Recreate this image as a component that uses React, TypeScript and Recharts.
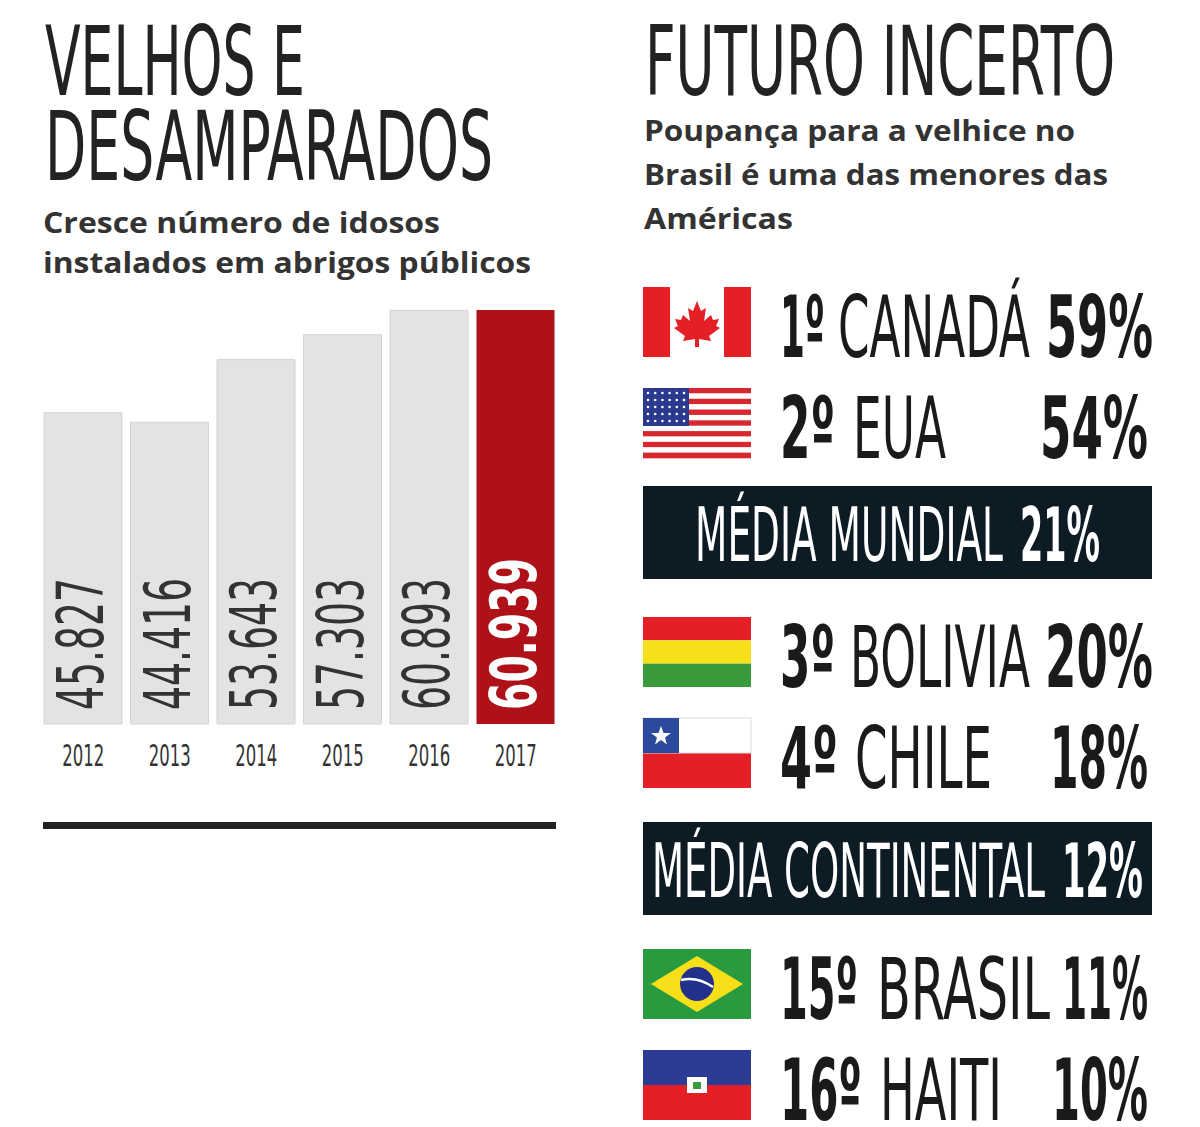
import { BarChart, Bar, XAxis, YAxis, Cell, LabelList } from "recharts";

const years = ["2012", "2013", "2014", "2015", "2016", "2017"];
const residents = [45827, 44416, 53643, 57303, 60893, 60939];
const residentLabels = ["45.827", "44.416", "53.643", "57.303", "60.893", "60.939"];

const ranks = ["1º", "2º", "3º", "4º", "15º", "16º"];
const countries = ["CANADÁ", "EUA", "BOLIVIA", "CHILE", "BRASIL", "HAITI"];
const savings = ["59%", "54%", "20%", "18%", "11%", "10%"];
const averages = ["MÉDIA MUNDIAL", "MÉDIA CONTINENTAL"];
const averageValues = ["21%", "12%"];

const data = years.map((y, i) => ({ year: y, value: residents[i], label: residentLabels[i] }));

const COND = "'Liberation Sans Narrow', 'DejaVu Sans Condensed', sans-serif";
const SANS = "'Open Sans', 'Noto Sans', sans-serif";

// layout of the right-hand list
const rowTops = [287, 388, 617, 718, 949, 1050];
const rowGeom = [
  [780, 45, 838, 192, 1046, 107],
  [780, 55, 853, 93, 1040, 108],
  [780, 55, 850, 180, 1045, 108],
  [780, 58, 855, 137, 1050, 98],
  [780, 78, 877, 173, 1062, 86],
  [780, 82, 880, 122, 1052, 96],
];
const bannerTops = [486, 822];
const bannerGeom = [
  [695, 308, 1020, 80],
  [652, 393, 1062, 81],
];

function Flag({ kind, x, y }: { kind: string; x: number; y: number }) {
  const w = 108, h = 70;
  let body: any = null;
  if (kind === "CANADÁ") {
    body = (
      <>
        <rect width={w} height={h} fill="#fff" />
        <rect width={27} height={h} fill="#e41f25" />
        <rect x={81} width={27} height={h} fill="#e41f25" />
        <polygon
          points="54,14 58,24 63,21 61,34 68,28 70,33 76,32 73,39 77,41 66,49 68,54 56,52 56,60 52,60 52,52 40,54 42,49 31,41 35,39 32,32 38,33 40,28 47,34 45,21 50,24"
          fill="#e41f25"
        />
      </>
    );
  } else if (kind === "EUA") {
    body = (
      <>
        {Array.from({ length: 13 }).map((_, i) => (
          <rect key={i} y={(i * h) / 13} width={w} height={h / 13 + 0.3} fill={i % 2 ? "#fff" : "#d7282f"} />
        ))}
        <rect width={46} height={38} fill="#2b3a8f" />
        {Array.from({ length: 5 }).map((_, r) =>
          Array.from({ length: 6 }).map((_, c) => (
            <circle key={r + "-" + c} cx={5 + c * 7.2} cy={5 + r * 7} r={1.3} fill="#fff" />
          ))
        )}
      </>
    );
  } else if (kind === "BOLIVIA") {
    body = (
      <>
        <rect width={w} height={h / 3} fill="#e41f25" />
        <rect y={h / 3} width={w} height={h / 3} fill="#f7e01a" />
        <rect y={(2 * h) / 3} width={w} height={h / 3} fill="#3a9b3c" />
      </>
    );
  } else if (kind === "CHILE") {
    body = (
      <>
        <rect width={w} height={h} fill="#e41f25" />
        <rect width={w} height={h / 2} fill="#fff" stroke="#ddd" />
        <rect width={36} height={h / 2} fill="#2b4a9c" />
        <polygon points="18,8 20.5,15 28,15 22,19.5 24,26.5 18,22 12,26.5 14,19.5 8,15 15.5,15" fill="#fff" />
      </>
    );
  } else if (kind === "BRASIL") {
    body = (
      <>
        <rect width={w} height={h} fill="#2a9a3e" />
        <polygon points="54,7 100,35 54,63 8,35" fill="#f7e01a" />
        <circle cx={54} cy={35} r={17} fill="#22318b" />
        <path d="M38,31 Q54,27 70,38" stroke="#fff" strokeWidth={2.5} fill="none" />
      </>
    );
  } else {
    body = (
      <>
        <rect width={w} height={h / 2} fill="#2c3c94" />
        <rect y={h / 2} width={w} height={h / 2} fill="#e41f25" />
        <rect x={44} y={27} width={20} height={16} fill="#fff" />
        <rect x={50} y={32} width={8} height={7} fill="#3a9b3c" />
      </>
    );
  }
  return <g transform={`translate(${x},${y})`}>{body}</g>;
}

function BarText(props: any) {
  const { x, y, width, height, value, index } = props;
  const cx = x + width / 2 + 20;
  const by = y + height - 14;
  const last = index === years.length - 1;
  return (
    <text
      transform={`translate(${cx},${by}) rotate(-90)`}
      fontFamily={COND}
      fontSize={64}
      fontWeight={last ? 700 : 400}
      fill={last ? "#fff" : "#333"}
      textLength={last ? 152 : 132}
      lengthAdjust="spacingAndGlyphs"
    >
      {value}
    </text>
  );
}

function YearTick(props: any) {
  const { x, y, payload } = props;
  return (
    <text
      x={x - 21}
      y={y + 34}
      fontFamily={COND}
      fontSize={30}
      fill="#333"
      textLength={42}
      lengthAdjust="spacingAndGlyphs"
    >
      {payload.value}
    </text>
  );
}

export default function App() {
  return (
    <div style={{ position: "absolute", left: 0, top: 0, width: 1200, height: 1127, background: "#fff" }}>
      <svg width={1200} height={1127} style={{ position: "absolute", left: 0, top: 0 }}>
        {/* left titles */}
        <text x={45} y={95} fontFamily={COND} fontSize={96} fill="#222" textLength={260} lengthAdjust="spacingAndGlyphs">VELHOS E</text>
        <text x={45} y={180} fontFamily={COND} fontSize={96} fill="#222" textLength={448} lengthAdjust="spacingAndGlyphs">DESAMPARADOS</text>
        <text x={43} y={233} fontFamily={SANS} fontSize={28} fontWeight={700} fill="#333" textLength={397} lengthAdjust="spacingAndGlyphs">Cresce número de idosos</text>
        <text x={43} y={273} fontFamily={SANS} fontSize={28} fontWeight={700} fill="#333" textLength={488} lengthAdjust="spacingAndGlyphs">instalados em abrigos públicos</text>
        <rect x={43} y={822} width={513} height={7} fill="#222" />

        {/* right titles */}
        <text x={645} y={95} fontFamily={COND} fontSize={96} fill="#222" textLength={470} lengthAdjust="spacingAndGlyphs">FUTURO INCERTO</text>
        <text x={644} y={141} fontFamily={SANS} fontSize={28} fontWeight={700} fill="#333" textLength={431} lengthAdjust="spacingAndGlyphs">Poupança para a velhice no</text>
        <text x={644} y={185} fontFamily={SANS} fontSize={28} fontWeight={700} fill="#333" textLength={464} lengthAdjust="spacingAndGlyphs">Brasil é uma das menores das</text>
        <text x={644} y={229} fontFamily={SANS} fontSize={28} fontWeight={700} fill="#333" textLength={149} lengthAdjust="spacingAndGlyphs">Américas</text>

        {countries.map((c, i) => {
          const [rx, rw, cx, cw, px, pw] = rowGeom[i];
          const base = rowTops[i] + 70;
          return (
            <g key={c}>
              <Flag kind={c} x={643} y={rowTops[i]} />
              <text x={rx} y={base} fontFamily={COND} fontWeight={700} fontSize={86} fill="#1a1a1a" textLength={rw} lengthAdjust="spacingAndGlyphs">{ranks[i]}</text>
              <text x={cx} y={base} fontFamily={COND} fontSize={86} fill="#1a1a1a" textLength={cw} lengthAdjust="spacingAndGlyphs">{c}</text>
              <text x={px} y={base} fontFamily={COND} fontWeight={700} fontSize={86} fill="#1a1a1a" textLength={pw} lengthAdjust="spacingAndGlyphs">{savings[i]}</text>
            </g>
          );
        })}

        {averages.map((a, i) => {
          const [ax, aw, vx, vw] = bannerGeom[i];
          const top = bannerTops[i];
          return (
            <g key={a}>
              <rect x={643} y={top} width={509} height={93} fill="#0d1b24" />
              <text x={ax} y={top + 75} fontFamily={COND} fontSize={74} fill="#fff" textLength={aw} lengthAdjust="spacingAndGlyphs">{a}</text>
              <text x={vx} y={top + 75} fontFamily={COND} fontWeight={700} fontSize={74} fill="#fff" textLength={vw} lengthAdjust="spacingAndGlyphs">{averageValues[i]}</text>
            </g>
          );
        })}
      </svg>

      <div style={{ position: "absolute", left: 40, top: 300 }}>
        <BarChart width={519} height={480} data={data} margin={{ top: 10, right: 0, bottom: 0, left: 0 }}>
          <XAxis dataKey="year" axisLine={false} tickLine={false} height={56} tick={<YearTick />} />
          <YAxis hide domain={[0, 60939]} />
          <Bar dataKey="value" barSize={78} isAnimationActive={false}>
            {data.map((_, i) => (
              <Cell key={i} fill={i === years.length - 1 ? "#ae1117" : "#e3e3e4"} stroke={i === years.length - 1 ? "none" : "#d4d4d4"} />
            ))}
            <LabelList dataKey="label" content={BarText} />
          </Bar>
        </BarChart>
      </div>
    </div>
  );
}
